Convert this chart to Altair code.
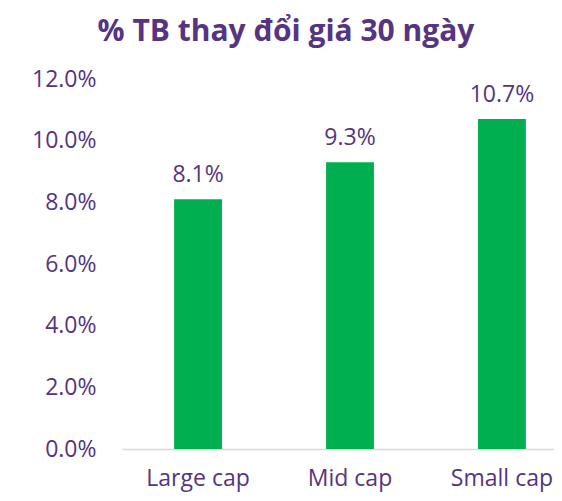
import altair as alt
import pandas as pd

categories = ["Large cap", "Mid cap", "Small cap"]
values = [0.081, 0.093, 0.107]

df = pd.DataFrame({"cat": categories, "val": values})

PURPLE = "#553581"
GREEN = "#00B050"
FONT = "Open Sans"

xscale = alt.Scale(domain=categories, range=[0, 456], paddingInner=0.685, paddingOuter=0.343)
x = alt.X("cat:N", sort=categories, title=None, scale=xscale,
          axis=alt.Axis(labelAngle=0, domain=True, domainColor="#D9D9D9", domainWidth=1.5,
                        ticks=False, labelPadding=18, labelFontSize=23, labelColor=PURPLE,
                        labelFont=FONT))
y = alt.Y("val:Q", title=None,
          scale=alt.Scale(domain=[0, 0.12], nice=False),
          axis=alt.Axis(format=".1%", values=[0, 0.02, 0.04, 0.06, 0.08, 0.10, 0.12],
                        domain=False, ticks=False, grid=False, labelPadding=26,
                        labelFontSize=23, labelColor=PURPLE, labelFont=FONT))

bars = alt.Chart(df).mark_bar(color=GREEN).encode(x=x, y=y)
labels = alt.Chart(df).mark_text(dy=-17, baseline="alphabetic", fontSize=23, color=PURPLE,
                                 font=FONT).encode(
    x=alt.X("cat:N", sort=categories, scale=xscale), y="val:Q",
    text=alt.Text("val:Q", format=".1%"))

chart = (bars + labels).properties(
    width=432, height=370,
    autosize=alt.AutoSizeParams(type="none"),
    padding={"left": 114, "top": 71, "right": 0, "bottom": 44},
    title=alt.TitleParams("% TB thay đổi giá 30 ngày", fontSize=30, font=FONT,
                          fontWeight="bold", color=PURPLE, anchor="middle", dx=-52,
                          offset=21),
).configure_view(stroke=None)

chart.save("out.html", embed_options={"renderer": "svg", "actions": False})
